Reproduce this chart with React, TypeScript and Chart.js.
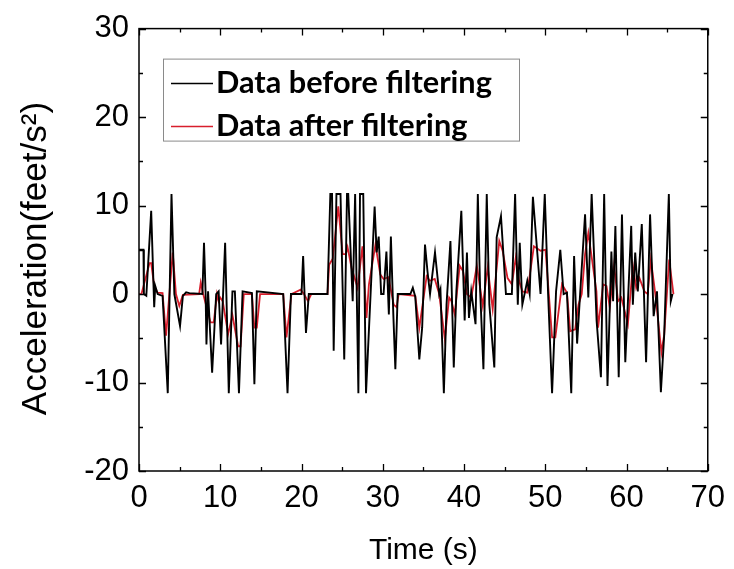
import React, { useEffect, useRef } from 'react';
import { Chart, registerables } from 'chart.js';

Chart.register(...registerables);

// ---- data ----
const rawTime = [
  0, 0.55, 0.6, 0.9, 1.5, 1.87, 2.0, 2.3, 2.9, 3.54, 4.0, 4.35, 5.05, 5.4, 5.8, 6.2, 7.8, 8.0, 8.2, 8.3,
  8.5, 9.0, 9.5, 9.8, 10.1, 10.6, 11.05, 11.5, 11.8, 12.3, 12.75, 13.9, 14.2, 14.5, 17.75, 18.28, 18.7, 20.0,
  20.2, 20.55, 20.9, 23.2, 23.55, 23.76, 23.96, 24.3, 24.8, 25.26, 25.6, 25.75, 26.3, 26.6, 27.0, 27.2, 27.6,
  27.94, 29.0, 29.25, 29.5, 29.8, 30.1, 30.45, 30.75, 31.0, 31.3, 31.55, 31.84, 33.4, 33.7, 34.0, 34.5, 34.85,
  35.2, 35.5, 35.82, 36.43, 36.95, 37.1, 37.52, 37.85, 38.33, 38.74, 39.06, 39.67, 40.08, 40.36, 40.61, 40.89,
  41.42, 41.7, 41.99, 42.39, 42.8, 43.12, 43.73, 44.02, 44.55, 45.16, 45.89, 46.29, 46.62, 46.86, 47.18, 47.79,
  48.08, 48.48, 49.42, 49.94, 50.35, 50.84, 51.33, 51.85, 52.26, 52.67, 53.2, 53.55, 53.92, 54.29, 54.9, 55.3,
  55.71, 56.32, 56.85, 57.25, 57.66, 58.14, 58.35, 58.63, 59.04, 59.44, 59.85, 60.58, 60.78, 61.07, 61.39,
  61.88, 62.41, 62.9, 63.34, 63.75, 64.23, 64.64, 65.21, 65.45, 65.66,
];
const rawAccel = [
  5, 5, 0, -0.2, 9.4, -1.5, 0.9, 0, -0.2, -11.2, 11.3, 0, -3.6, -0.2, 0.2, 0.1, 0, 5.8, 0, -5.7,
  0.3, -8.9, 0, 0.3, -5.7, 5.8, -11.2, 0.3, 0.3, -11.2, 0.3, 0.1, -10.2, 0.3, 0, -11.2, 0, 0,
  4.3, -4.4, 0, 0, 11.3, 11.3, -6.4, 11.3, 11.3, -7.4, 11.3, 11.3, -0.8, 11.3, -11.2, 11.3, 11.3,
  -11.2, 9.9, 4.7, 6.5, 0, 0, 4.8, -2.3, 6.5, -2.3, -8.5, 0, 0, 0.7, -0.3, -7.4, -3.8,
  5.6, 2.6, 0, 4.7, 0, 0.5, -11.2, -1.2, 6.0, -8.3, 0.3, 9.4, -3.0, 4.7, -2.7, 0.3,
  -3.4, 11.3, 0.3, -8.5, 11.3, -1.2, -8.3, 6.4, 8.8, 0, 0, 11.3, -1.2, 5.8, -1.2, 1.5,
  0, 11.0, 0, 11.3, 0, -11.2, 0.3, 5.0, 0, 0.15, -11.2, 4.3, -5.6, 0, 9.0, -0.4,
  11.3, -3.0, -9.4, 11.3, -10.4, 4.8, -0.8, 7.7, -9.4, 9.0, -7.7, 7.7, -1.2, 4.7, 0.3,
  7.9, -7.7, 9.0, -2.5, 0.3, -11.1, -4.6, 11.3, -0.8, 0,
];
const filtTime = [
  0, 0.3, 1.3, 1.5, 1.9, 2.3, 2.9, 3.33, 4.15, 4.55, 4.96, 5.4, 7.4, 7.6, 7.9, 8.8, 9.2, 9.6, 9.8, 10.0,
  10.3, 10.97, 11.5, 12.2, 12.5, 12.9, 13.9, 14.2, 14.5, 14.9, 17.75, 18.15, 18.76, 19.9, 20.3, 20.8, 21.2,
  23.2, 23.4, 23.84, 24.53, 25.06, 25.46, 25.67, 26.15, 26.9, 27.5, 28.0, 28.3, 29.1, 29.7, 30.1, 30.7,
  31.35, 31.7, 31.96, 34.0, 34.5, 35.4, 35.8, 36.4, 36.95, 37.64, 38.17, 38.45, 38.86, 39.47, 39.88, 40.36,
  40.89, 41.58, 42.31, 42.92, 43.53, 44.34, 44.75, 45.36, 45.89, 46.37, 46.78, 47.18, 47.79, 48.6, 49.42,
  50.03, 50.84, 51.24, 52.06, 52.67, 53.07, 53.68, 54.09, 54.49, 54.9, 55.3, 56.3, 56.5, 57.13, 57.54, 57.94,
  58.47, 58.96, 59.36, 59.77, 60.17, 60.78, 61.19, 61.6, 62.2, 62.6, 63.0, 63.6, 64.3, 64.64, 65.25, 65.78,
];
const filtAccel = [
  0, 0, 3.5, 3.5, 0.7, 0.15, 0.1, -4.7, 4.7, 0, -1.35, -0.1, 0, 1.3, 0, -3.2, -3.2, 0, -0.8, -0.4,
  -0.8, -4.5, -2.4, -5.9, -5.9, 0, 0, -3.8, -3.8, 0, 0, -4.9, 0, 0.5, 0, -0.8, 0,
  0, 3.3, 4.0, 9.9, 4.5, 4.5, 5.3, 3.0, 0.7, 5.4, -2.7, 1.1, 5.6, 2.2, 1.7, 1.9,
  -1.2, -1.5, 0, -0.2, -3.8, 2.0, 1.5, 1.7, 0, -5.1, -0.4, -0.8, -2.3, 3.2, 2.6, 0,
  -0.4, 3.2, -1.35, 3.0, -1.7, 6.0, 4.9, 1.8, 1.1, 4.1, 1.5, 0.3, 0.15, 5.4, 4.9,
  5.0, -4.9, -4.9, 1.1, 0.15, -4.2, -4.0, -1.2, 0, 4.5, 6.9, 0.3, -3.8, 1.1, 0.9, -1.5,
  3.2, -0.8, -0.4, -1.9, -3.4, 3.2, 0.7, 1.8, 0.3, 0, 3.9, -0.4, -6.6, -4.6, 3.9, 0,
];
const xTickValues = [0, 10, 20, 30, 40, 50, 60, 70];
const yTickValues = [-20, -10, 0, 10, 20, 30];
const seriesLabels = ['Data before filtering', 'Data after filtering'];
const seriesColors = ['#000000', '#d81e2c'];
const xTitle = 'Time (s)';
const yTitle = 'Acceleration(feet/s\u00B2)\u2002';

const W = 734;
const H = 569;
const AXIS_FONT = "'Liberation Sans', Arial, Helvetica, sans-serif";

const frameLegendPlugin = {
  id: 'frameLegend',
  afterDatasetsDraw(chart: any) {
    const ctx = chart.ctx as CanvasRenderingContext2D;
    const { left, right, top, bottom } = chart.chartArea;
    const xs = chart.scales.x;
    const ys = chart.scales.y;
    ctx.save();
    ctx.strokeStyle = '#000';
    ctx.lineWidth = 1.5;
    ctx.strokeRect(left, top, right - left, bottom - top);
    ctx.lineWidth = 1.3;
    ctx.beginPath();
    for (let v = xs.min; v <= xs.max + 1e-9; v += 5) {
      const px = Math.round(xs.getPixelForValue(v)) + 0.5;
      const len = Math.abs(v % 10) < 1e-9 ? 7 : 4;
      ctx.moveTo(px, bottom); ctx.lineTo(px, bottom - len);
      ctx.moveTo(px, top); ctx.lineTo(px, top + len);
    }
    for (let v = ys.min; v <= ys.max + 1e-9; v += 5) {
      const py = Math.round(ys.getPixelForValue(v)) + 0.5;
      const len = Math.abs(v % 10) < 1e-9 ? 7 : 4;
      ctx.moveTo(left, py); ctx.lineTo(left + len, py);
      ctx.moveTo(right, py); ctx.lineTo(right - len, py);
    }
    ctx.stroke();

    // legend box
    const bx = left + 24, by = top + 30, bw = 356, bh = 82;
    ctx.fillStyle = '#fff';
    ctx.fillRect(bx, by, bw, bh);
    ctx.strokeStyle = '#8a8a8a';
    ctx.lineWidth = 1;
    ctx.strokeRect(bx + 0.5, by + 0.5, bw, bh);
    const targetW = 276;
    ctx.font = "bold 30px Lato, 'Open Sans', sans-serif";
    const m = ctx.measureText(seriesLabels[0]).width;
    const fs = (30 * targetW) / m;
    ctx.font = `bold ${fs.toFixed(2)}px Lato, 'Open Sans', sans-serif`;
    ctx.textBaseline = 'middle';
    ctx.textAlign = 'left';
    const rows = [by + 25, by + 68];
    rows.forEach((ry, i) => {
      ctx.strokeStyle = seriesColors[i];
      ctx.lineWidth = 1.5;
      ctx.beginPath();
      ctx.moveTo(bx + 8, ry);
      ctx.lineTo(bx + 50, ry);
      ctx.stroke();
      ctx.fillStyle = '#000';
      ctx.fillText(seriesLabels[i], bx + 53, ry);
    });
    ctx.restore();
  },
};

export default function App() {
  const ref = useRef<HTMLCanvasElement | null>(null);
  useEffect(() => {
    if (!ref.current) return;
    const chart = new Chart(ref.current, {
      type: 'line',
      data: {
        datasets: [
          {
            label: seriesLabels[0],
            data: rawTime.map((t, i) => ({ x: t, y: rawAccel[i] })),
            borderColor: seriesColors[0],
            borderWidth: 1.9,
            pointRadius: 0,
            tension: 0,
          },
          {
            label: seriesLabels[1],
            data: filtTime.map((t, i) => ({ x: t, y: filtAccel[i] })),
            borderColor: seriesColors[1],
            borderWidth: 1.8,
            pointRadius: 0,
            tension: 0,
          },
        ],
      },
      options: {
        responsive: false,
        animation: false,
        devicePixelRatio: 1,
        layout: { padding: { left: 0, top: 27, right: 21, bottom: 0 } },
        plugins: { legend: { display: false }, tooltip: { enabled: false } },
        scales: {
          x: {
            type: 'linear',
            min: 0,
            max: 70,
            afterBuildTicks: (s: any) => { s.ticks = xTickValues.map((v) => ({ value: v })); },
            afterFit: (s: any) => { s.height = H - 471; },
            grid: { display: false, drawTicks: false },
            border: { display: false },
            ticks: { padding: 9, maxRotation: 0, color: '#000', font: { family: AXIS_FONT, size: 31 } },
            title: {
              display: true,
              text: xTitle,
              color: '#000',
              font: { family: AXIS_FONT, size: 30 },
              padding: { top: 0, bottom: 0 },
            },
          },
          y: {
            type: 'linear',
            min: -20,
            max: 30,
            afterBuildTicks: (s: any) => { s.ticks = yTickValues.map((v) => ({ value: v })); },
            afterFit: (s: any) => { s.width = 139; },
            grid: { display: false, drawTicks: false },
            border: { display: false },
            ticks: { padding: 10, color: '#000', font: { family: AXIS_FONT, size: 31 } },
            title: {
              display: true,
              text: yTitle,
              color: '#000',
              font: { family: AXIS_FONT, size: 35 },
              padding: { top: 15, bottom: 0 },
            },
          },
        },
      },
      plugins: [frameLegendPlugin],
    } as any);
    return () => chart.destroy();
  }, []);
  return (
    <div style={{ position: 'fixed', left: 0, top: 0, width: W, height: H, background: '#fff' }}>
      <canvas ref={ref} width={W} height={H} style={{ width: W, height: H, display: 'block' }} />
    </div>
  );
}
